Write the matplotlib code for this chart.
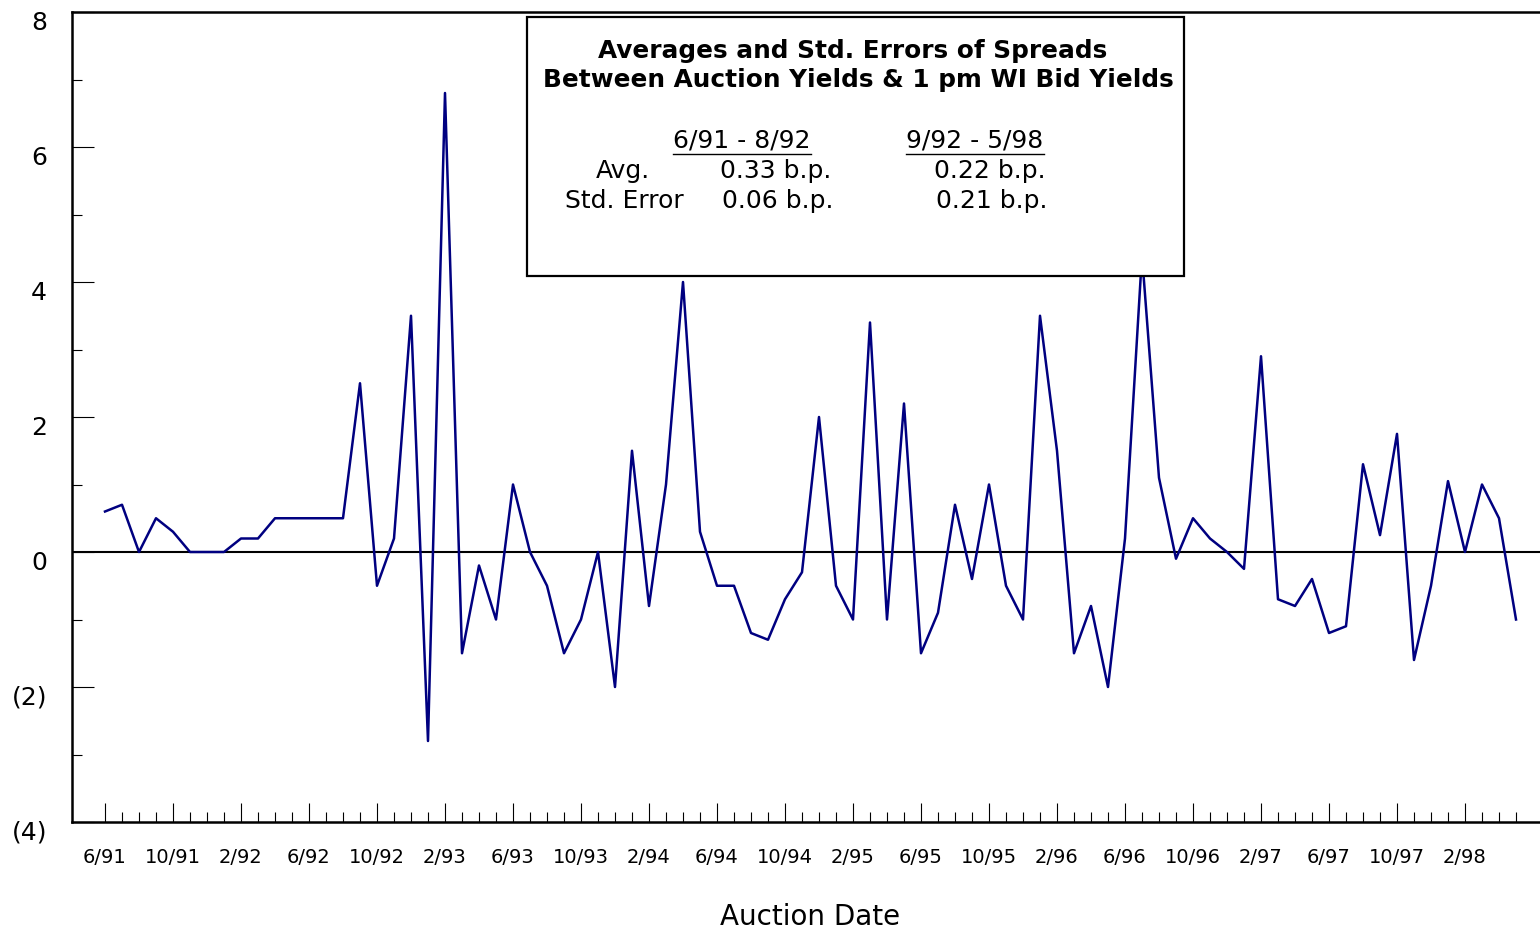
import numpy as np
import matplotlib
matplotlib.use("Agg")
import matplotlib.pyplot as plt
from matplotlib.patches import Rectangle
from matplotlib.lines import Line2D
from matplotlib.transforms import ScaledTranslation

plt.rcParams['font.family'] = ['DejaVu Sans']

# ---- data: monthly auction spreads (b.p.), 6/91 .. 5/98 ----
spread = [0.6, 0.7, 0.0, 0.5, 0.3, 0.0, 0.0, 0.0, 0.2, 0.2,
          0.5, 0.5, 0.5, 0.5, 0.5, 2.5, -0.5, 0.2, 3.5, -2.8,
          6.8, -1.5, -0.2, -1.0, 1.0, 0.0, -0.5, -1.5, -1.0, 0.0,
          -2.0, 1.5, -0.8, 1.0, 4.0, 0.3, -0.5, -0.5, -1.2, -1.3,
          -0.7, -0.3, 2.0, -0.5, -1.0, 3.4, -1.0, 2.2, -1.5, -0.9,
          0.7, -0.4, 1.0, -0.5, -1.0, 3.5, 1.5, -1.5, -0.8, -2.0,
          0.2, 4.4, 1.1, -0.1, 0.5, 0.2, 0.0, -0.25, 2.9, -0.7,
          -0.8, -0.4, -1.2, -1.1, 1.3, 0.25, 1.75, -1.6, -0.5, 1.05,
          0.0, 1.0, 0.5, -1.0]

x_tick_labels = ["6/91", "10/91", "2/92", "6/92", "10/92", "2/93", "6/93",
                 "10/93", "2/94", "6/94", "10/94", "2/95", "6/95", "10/95",
                 "2/96", "6/96", "10/96", "2/97", "6/97", "10/97", "2/98"]
y_tick_values = [-4, -2, 0, 2, 4, 6, 8]
y_tick_labels = ["(4)", "(2)", "0", "2", "4", "6", "8"]

box_title = ["Averages and Std. Errors of Spreads",
             "Between Auction Yields & 1 pm WI Bid Yields"]
period_labels = ["6/91 - 8/92", "9/92 - 5/98"]
row_labels = ["Avg.", "Std. Error"]
avg_values = ["0.33 b.p.", "0.22 b.p."]
se_values = ["0.06 b.p.", "0.21 b.p."]

W, H = 1540, 930
fig = plt.figure(figsize=(W / 100, H / 100), dpi=100)

def fx(px):
    return px / W

def fy(py):
    return 1 - py / H

ax = fig.add_axes([fx(72), fy(822), fx(1540) - fx(72), fy(12) - fy(822)])

xs = np.arange(len(spread))
ax.plot(xs, spread, color='#000080', lw=1.8, zorder=3)
ax.axhline(0, color='black', lw=1.5, zorder=2)

ax.set_xlim(-33 / 17, -33 / 17 + 1468 / 17)
ax.set_ylim(-4, 8)

# spines
for s in ['left', 'top', 'bottom']:
    ax.spines[s].set_linewidth(1.8)
ax.spines['right'].set_visible(False)

# x ticks
ax.set_xticks(np.arange(0, len(spread), 4))
ax.set_xticklabels(x_tick_labels)
ax.set_xticks(np.arange(0, len(spread)), minor=True)
ax.tick_params(axis='x', which='major', direction='in', length=13.7, width=0.8,
               labelsize=14, pad=18.5)
ax.tick_params(axis='x', which='minor', direction='in', length=7.2, width=0.8)

# y ticks
ax.set_yticks(y_tick_values)
ax.set_yticklabels(y_tick_labels)
ax.set_yticks(np.arange(-3, 8, 2), minor=True)
ax.tick_params(axis='y', which='major', direction='in', length=15.8, width=0.8,
               labelsize=18, pad=18)
ax.tick_params(axis='y', which='minor', direction='in', length=7.2, width=0.8)
off = ScaledTranslation(0, -8 / 100, fig.dpi_scale_trans)
for lab in ax.get_yticklabels():
    lab.set_transform(lab.get_transform() + off)

ax.set_xlabel("Auction Date", fontsize=20)
ax.xaxis.set_label_coords((810 - 72) / 1468, (822 - 917) / 810)
ax.xaxis.label.set_va('center')

# ---- annotation box ----
box = Rectangle((fx(527), fy(276)), fx(1184) - fx(527), fy(17) - fy(276),
                transform=fig.transFigure, facecolor='white', edgecolor='black',
                lw=1.6, zorder=5, clip_on=False)
fig.patches.append(box)

fig.text(fx(853), fy(51), box_title[0], ha='center', va='center',
         fontsize=17.8, fontweight='bold', zorder=6)
fig.text(fx(858), fy(80), box_title[1], ha='center', va='center',
         fontsize=17.8, fontweight='bold', zorder=6)

fs = 18
per_txt = []
for cx, lab in zip([742, 975], period_labels):
    per_txt.append(fig.text(fx(cx), fy(141), lab, ha='center', va='center',
                            fontsize=fs, zorder=6))
fig.text(fx(623), fy(171), row_labels[0], ha='center', va='center', fontsize=fs, zorder=6)
fig.text(fx(624), fy(201), row_labels[1], ha='center', va='center', fontsize=fs, zorder=6)
fig.text(fx(776), fy(171), avg_values[0], ha='center', va='center', fontsize=fs, zorder=6)
fig.text(fx(990), fy(171), avg_values[1], ha='center', va='center', fontsize=fs, zorder=6)
fig.text(fx(778), fy(201), se_values[0], ha='center', va='center', fontsize=fs, zorder=6)
fig.text(fx(992), fy(201), se_values[1], ha='center', va='center', fontsize=fs, zorder=6)

# underline period headers
fig.canvas.draw()
r = fig.canvas.get_renderer()
for t in per_txt:
    bb = t.get_window_extent(renderer=r)
    yline = fy(154)
    fig.lines.append(Line2D([bb.x0 / W, bb.x1 / W], [yline, yline],
                            transform=fig.transFigure, color='black', lw=1.0, zorder=6))

fig.savefig("out.png", dpi=100)
